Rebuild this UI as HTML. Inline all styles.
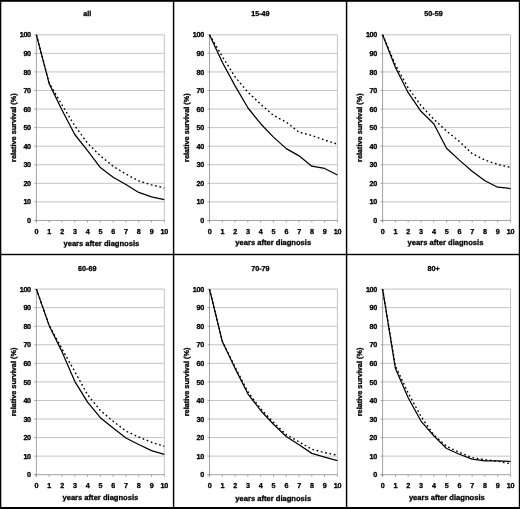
<!DOCTYPE html>
<html><head><meta charset="utf-8"><title>relative survival</title>
<style>html,body{margin:0;padding:0;background:#fff}svg{display:block}text{stroke:#000;stroke-width:.3px;text-rendering:geometricPrecision}.n{letter-spacing:-.3px}</style></head>
<body><svg width="520" height="509" viewBox="0 0 520 509" font-family="Liberation Sans, Arial, Helvetica, sans-serif" font-weight="bold" font-size="7.2" fill="#000"><rect x="0" y="0" width="520" height="509" fill="#fff"/><g><line x1="36.40" y1="201.88" x2="164.30" y2="201.88" stroke="#c4c4c4" stroke-width="1"/><line x1="36.40" y1="183.32" x2="164.30" y2="183.32" stroke="#c4c4c4" stroke-width="1"/><line x1="36.40" y1="164.75" x2="164.30" y2="164.75" stroke="#c4c4c4" stroke-width="1"/><line x1="36.40" y1="146.19" x2="164.30" y2="146.19" stroke="#c4c4c4" stroke-width="1"/><line x1="36.40" y1="127.62" x2="164.30" y2="127.62" stroke="#c4c4c4" stroke-width="1"/><line x1="36.40" y1="109.06" x2="164.30" y2="109.06" stroke="#c4c4c4" stroke-width="1"/><line x1="36.40" y1="90.50" x2="164.30" y2="90.50" stroke="#c4c4c4" stroke-width="1"/><line x1="36.40" y1="71.93" x2="164.30" y2="71.93" stroke="#c4c4c4" stroke-width="1"/><line x1="36.40" y1="53.37" x2="164.30" y2="53.37" stroke="#c4c4c4" stroke-width="1"/><line x1="36.40" y1="34.80" x2="164.30" y2="34.80" stroke="#c4c4c4" stroke-width="1"/><line x1="164.30" y1="34.80" x2="164.30" y2="220.45" stroke="#c4c4c4" stroke-width="1"/><line x1="36.40" y1="34.80" x2="36.40" y2="222.45" stroke="#8a8a8a" stroke-width="0.8"/><line x1="34.40" y1="220.45" x2="164.30" y2="220.45" stroke="#8a8a8a" stroke-width="0.8"/><line x1="34.40" y1="220.45" x2="36.40" y2="220.45" stroke="#8a8a8a" stroke-width="0.8"/><line x1="36.40" y1="220.45" x2="36.40" y2="222.45" stroke="#8a8a8a" stroke-width="0.8"/><text x="30.80" y="223.05" text-anchor="end" class="n">0</text><text x="36.40" y="234.35" text-anchor="middle" class="n">0</text><line x1="34.40" y1="201.88" x2="36.40" y2="201.88" stroke="#8a8a8a" stroke-width="0.8"/><line x1="49.19" y1="220.45" x2="49.19" y2="222.45" stroke="#8a8a8a" stroke-width="0.8"/><text x="30.80" y="204.48" text-anchor="end" class="n">10</text><text x="49.19" y="234.35" text-anchor="middle" class="n">1</text><line x1="34.40" y1="183.32" x2="36.40" y2="183.32" stroke="#8a8a8a" stroke-width="0.8"/><line x1="61.98" y1="220.45" x2="61.98" y2="222.45" stroke="#8a8a8a" stroke-width="0.8"/><text x="30.80" y="185.92" text-anchor="end" class="n">20</text><text x="61.98" y="234.35" text-anchor="middle" class="n">2</text><line x1="34.40" y1="164.75" x2="36.40" y2="164.75" stroke="#8a8a8a" stroke-width="0.8"/><line x1="74.77" y1="220.45" x2="74.77" y2="222.45" stroke="#8a8a8a" stroke-width="0.8"/><text x="30.80" y="167.35" text-anchor="end" class="n">30</text><text x="74.77" y="234.35" text-anchor="middle" class="n">3</text><line x1="34.40" y1="146.19" x2="36.40" y2="146.19" stroke="#8a8a8a" stroke-width="0.8"/><line x1="87.56" y1="220.45" x2="87.56" y2="222.45" stroke="#8a8a8a" stroke-width="0.8"/><text x="30.80" y="148.79" text-anchor="end" class="n">40</text><text x="87.56" y="234.35" text-anchor="middle" class="n">4</text><line x1="34.40" y1="127.62" x2="36.40" y2="127.62" stroke="#8a8a8a" stroke-width="0.8"/><line x1="100.35" y1="220.45" x2="100.35" y2="222.45" stroke="#8a8a8a" stroke-width="0.8"/><text x="30.80" y="130.22" text-anchor="end" class="n">50</text><text x="100.35" y="234.35" text-anchor="middle" class="n">5</text><line x1="34.40" y1="109.06" x2="36.40" y2="109.06" stroke="#8a8a8a" stroke-width="0.8"/><line x1="113.14" y1="220.45" x2="113.14" y2="222.45" stroke="#8a8a8a" stroke-width="0.8"/><text x="30.80" y="111.66" text-anchor="end" class="n">60</text><text x="113.14" y="234.35" text-anchor="middle" class="n">6</text><line x1="34.40" y1="90.50" x2="36.40" y2="90.50" stroke="#8a8a8a" stroke-width="0.8"/><line x1="125.93" y1="220.45" x2="125.93" y2="222.45" stroke="#8a8a8a" stroke-width="0.8"/><text x="30.80" y="93.09" text-anchor="end" class="n">70</text><text x="125.93" y="234.35" text-anchor="middle" class="n">7</text><line x1="34.40" y1="71.93" x2="36.40" y2="71.93" stroke="#8a8a8a" stroke-width="0.8"/><line x1="138.72" y1="220.45" x2="138.72" y2="222.45" stroke="#8a8a8a" stroke-width="0.8"/><text x="30.80" y="74.53" text-anchor="end" class="n">80</text><text x="138.72" y="234.35" text-anchor="middle" class="n">8</text><line x1="34.40" y1="53.37" x2="36.40" y2="53.37" stroke="#8a8a8a" stroke-width="0.8"/><line x1="151.51" y1="220.45" x2="151.51" y2="222.45" stroke="#8a8a8a" stroke-width="0.8"/><text x="30.80" y="55.97" text-anchor="end" class="n">90</text><text x="151.51" y="234.35" text-anchor="middle" class="n">9</text><line x1="34.40" y1="34.80" x2="36.40" y2="34.80" stroke="#8a8a8a" stroke-width="0.8"/><line x1="164.30" y1="220.45" x2="164.30" y2="222.45" stroke="#8a8a8a" stroke-width="0.8"/><text x="30.80" y="37.40" text-anchor="end" class="n">100</text><text x="164.30" y="234.35" text-anchor="middle" class="n">10</text><polyline points="36.40,34.80 49.19,83.07 61.98,104.98 74.77,125.77 87.56,143.22 100.35,155.84 113.14,166.24 125.93,174.04 138.72,180.91 151.51,184.81 164.30,187.96" fill="none" stroke="#000" stroke-width="1.4" stroke-dasharray="1.7 2.7"/><polyline points="36.40,34.80 49.19,83.63 61.98,109.99 74.77,134.49 87.56,150.65 100.35,167.54 113.14,177.19 125.93,184.43 138.72,192.42 151.51,196.87 164.30,199.66" fill="none" stroke="#000" stroke-width="1.25" stroke-linejoin="round"/><text x="101.37" y="245.50" text-anchor="middle" font-size="7.58">years after diagnosis</text><text transform="translate(15.70,127.67) rotate(-90)" text-anchor="middle" font-size="7.3">relative survival (%)</text><text x="87.30" y="16.30" text-anchor="middle">all</text></g><g><line x1="209.50" y1="201.88" x2="337.40" y2="201.88" stroke="#c4c4c4" stroke-width="1"/><line x1="209.50" y1="183.32" x2="337.40" y2="183.32" stroke="#c4c4c4" stroke-width="1"/><line x1="209.50" y1="164.75" x2="337.40" y2="164.75" stroke="#c4c4c4" stroke-width="1"/><line x1="209.50" y1="146.19" x2="337.40" y2="146.19" stroke="#c4c4c4" stroke-width="1"/><line x1="209.50" y1="127.62" x2="337.40" y2="127.62" stroke="#c4c4c4" stroke-width="1"/><line x1="209.50" y1="109.06" x2="337.40" y2="109.06" stroke="#c4c4c4" stroke-width="1"/><line x1="209.50" y1="90.50" x2="337.40" y2="90.50" stroke="#c4c4c4" stroke-width="1"/><line x1="209.50" y1="71.93" x2="337.40" y2="71.93" stroke="#c4c4c4" stroke-width="1"/><line x1="209.50" y1="53.37" x2="337.40" y2="53.37" stroke="#c4c4c4" stroke-width="1"/><line x1="209.50" y1="34.80" x2="337.40" y2="34.80" stroke="#c4c4c4" stroke-width="1"/><line x1="337.40" y1="34.80" x2="337.40" y2="220.45" stroke="#c4c4c4" stroke-width="1"/><line x1="209.50" y1="34.80" x2="209.50" y2="222.45" stroke="#8a8a8a" stroke-width="0.8"/><line x1="207.50" y1="220.45" x2="337.40" y2="220.45" stroke="#8a8a8a" stroke-width="0.8"/><line x1="207.50" y1="220.45" x2="209.50" y2="220.45" stroke="#8a8a8a" stroke-width="0.8"/><line x1="209.50" y1="220.45" x2="209.50" y2="222.45" stroke="#8a8a8a" stroke-width="0.8"/><text x="203.90" y="223.05" text-anchor="end" class="n">0</text><text x="209.50" y="234.35" text-anchor="middle" class="n">0</text><line x1="207.50" y1="201.88" x2="209.50" y2="201.88" stroke="#8a8a8a" stroke-width="0.8"/><line x1="222.29" y1="220.45" x2="222.29" y2="222.45" stroke="#8a8a8a" stroke-width="0.8"/><text x="203.90" y="204.48" text-anchor="end" class="n">10</text><text x="222.29" y="234.35" text-anchor="middle" class="n">1</text><line x1="207.50" y1="183.32" x2="209.50" y2="183.32" stroke="#8a8a8a" stroke-width="0.8"/><line x1="235.08" y1="220.45" x2="235.08" y2="222.45" stroke="#8a8a8a" stroke-width="0.8"/><text x="203.90" y="185.92" text-anchor="end" class="n">20</text><text x="235.08" y="234.35" text-anchor="middle" class="n">2</text><line x1="207.50" y1="164.75" x2="209.50" y2="164.75" stroke="#8a8a8a" stroke-width="0.8"/><line x1="247.87" y1="220.45" x2="247.87" y2="222.45" stroke="#8a8a8a" stroke-width="0.8"/><text x="203.90" y="167.35" text-anchor="end" class="n">30</text><text x="247.87" y="234.35" text-anchor="middle" class="n">3</text><line x1="207.50" y1="146.19" x2="209.50" y2="146.19" stroke="#8a8a8a" stroke-width="0.8"/><line x1="260.66" y1="220.45" x2="260.66" y2="222.45" stroke="#8a8a8a" stroke-width="0.8"/><text x="203.90" y="148.79" text-anchor="end" class="n">40</text><text x="260.66" y="234.35" text-anchor="middle" class="n">4</text><line x1="207.50" y1="127.62" x2="209.50" y2="127.62" stroke="#8a8a8a" stroke-width="0.8"/><line x1="273.45" y1="220.45" x2="273.45" y2="222.45" stroke="#8a8a8a" stroke-width="0.8"/><text x="203.90" y="130.22" text-anchor="end" class="n">50</text><text x="273.45" y="234.35" text-anchor="middle" class="n">5</text><line x1="207.50" y1="109.06" x2="209.50" y2="109.06" stroke="#8a8a8a" stroke-width="0.8"/><line x1="286.24" y1="220.45" x2="286.24" y2="222.45" stroke="#8a8a8a" stroke-width="0.8"/><text x="203.90" y="111.66" text-anchor="end" class="n">60</text><text x="286.24" y="234.35" text-anchor="middle" class="n">6</text><line x1="207.50" y1="90.50" x2="209.50" y2="90.50" stroke="#8a8a8a" stroke-width="0.8"/><line x1="299.03" y1="220.45" x2="299.03" y2="222.45" stroke="#8a8a8a" stroke-width="0.8"/><text x="203.90" y="93.09" text-anchor="end" class="n">70</text><text x="299.03" y="234.35" text-anchor="middle" class="n">7</text><line x1="207.50" y1="71.93" x2="209.50" y2="71.93" stroke="#8a8a8a" stroke-width="0.8"/><line x1="311.82" y1="220.45" x2="311.82" y2="222.45" stroke="#8a8a8a" stroke-width="0.8"/><text x="203.90" y="74.53" text-anchor="end" class="n">80</text><text x="311.82" y="234.35" text-anchor="middle" class="n">8</text><line x1="207.50" y1="53.37" x2="209.50" y2="53.37" stroke="#8a8a8a" stroke-width="0.8"/><line x1="324.61" y1="220.45" x2="324.61" y2="222.45" stroke="#8a8a8a" stroke-width="0.8"/><text x="203.90" y="55.97" text-anchor="end" class="n">90</text><text x="324.61" y="234.35" text-anchor="middle" class="n">9</text><line x1="207.50" y1="34.80" x2="209.50" y2="34.80" stroke="#8a8a8a" stroke-width="0.8"/><line x1="337.40" y1="220.45" x2="337.40" y2="222.45" stroke="#8a8a8a" stroke-width="0.8"/><text x="203.90" y="37.40" text-anchor="end" class="n">100</text><text x="337.40" y="234.35" text-anchor="middle" class="n">10</text><polyline points="209.50,34.80 222.29,56.52 235.08,76.94 247.87,92.17 260.66,104.23 273.45,115.37 286.24,122.06 299.03,132.27 311.82,135.42 324.61,140.06 337.40,144.15" fill="none" stroke="#000" stroke-width="1.4" stroke-dasharray="1.7 2.7"/><polyline points="209.50,34.80 222.29,62.28 235.08,85.85 247.87,107.76 260.66,123.73 273.45,137.09 286.24,148.60 299.03,155.84 311.82,166.24 324.61,168.47 337.40,174.97" fill="none" stroke="#000" stroke-width="1.25" stroke-linejoin="round"/><text x="273.27" y="245.15" text-anchor="middle" font-size="7.58">years after diagnosis</text><text transform="translate(188.80,127.67) rotate(-90)" text-anchor="middle" font-size="7.3">relative survival (%)</text><text x="260.40" y="16.30" text-anchor="middle">15-49</text></g><g><line x1="382.60" y1="201.88" x2="510.50" y2="201.88" stroke="#c4c4c4" stroke-width="1"/><line x1="382.60" y1="183.32" x2="510.50" y2="183.32" stroke="#c4c4c4" stroke-width="1"/><line x1="382.60" y1="164.75" x2="510.50" y2="164.75" stroke="#c4c4c4" stroke-width="1"/><line x1="382.60" y1="146.19" x2="510.50" y2="146.19" stroke="#c4c4c4" stroke-width="1"/><line x1="382.60" y1="127.62" x2="510.50" y2="127.62" stroke="#c4c4c4" stroke-width="1"/><line x1="382.60" y1="109.06" x2="510.50" y2="109.06" stroke="#c4c4c4" stroke-width="1"/><line x1="382.60" y1="90.50" x2="510.50" y2="90.50" stroke="#c4c4c4" stroke-width="1"/><line x1="382.60" y1="71.93" x2="510.50" y2="71.93" stroke="#c4c4c4" stroke-width="1"/><line x1="382.60" y1="53.37" x2="510.50" y2="53.37" stroke="#c4c4c4" stroke-width="1"/><line x1="382.60" y1="34.80" x2="510.50" y2="34.80" stroke="#c4c4c4" stroke-width="1"/><line x1="510.50" y1="34.80" x2="510.50" y2="220.45" stroke="#c4c4c4" stroke-width="1"/><line x1="382.60" y1="34.80" x2="382.60" y2="222.45" stroke="#8a8a8a" stroke-width="0.8"/><line x1="380.60" y1="220.45" x2="510.50" y2="220.45" stroke="#8a8a8a" stroke-width="0.8"/><line x1="380.60" y1="220.45" x2="382.60" y2="220.45" stroke="#8a8a8a" stroke-width="0.8"/><line x1="382.60" y1="220.45" x2="382.60" y2="222.45" stroke="#8a8a8a" stroke-width="0.8"/><text x="377.00" y="223.05" text-anchor="end" class="n">0</text><text x="382.60" y="234.35" text-anchor="middle" class="n">0</text><line x1="380.60" y1="201.88" x2="382.60" y2="201.88" stroke="#8a8a8a" stroke-width="0.8"/><line x1="395.39" y1="220.45" x2="395.39" y2="222.45" stroke="#8a8a8a" stroke-width="0.8"/><text x="377.00" y="204.48" text-anchor="end" class="n">10</text><text x="395.39" y="234.35" text-anchor="middle" class="n">1</text><line x1="380.60" y1="183.32" x2="382.60" y2="183.32" stroke="#8a8a8a" stroke-width="0.8"/><line x1="408.18" y1="220.45" x2="408.18" y2="222.45" stroke="#8a8a8a" stroke-width="0.8"/><text x="377.00" y="185.92" text-anchor="end" class="n">20</text><text x="408.18" y="234.35" text-anchor="middle" class="n">2</text><line x1="380.60" y1="164.75" x2="382.60" y2="164.75" stroke="#8a8a8a" stroke-width="0.8"/><line x1="420.97" y1="220.45" x2="420.97" y2="222.45" stroke="#8a8a8a" stroke-width="0.8"/><text x="377.00" y="167.35" text-anchor="end" class="n">30</text><text x="420.97" y="234.35" text-anchor="middle" class="n">3</text><line x1="380.60" y1="146.19" x2="382.60" y2="146.19" stroke="#8a8a8a" stroke-width="0.8"/><line x1="433.76" y1="220.45" x2="433.76" y2="222.45" stroke="#8a8a8a" stroke-width="0.8"/><text x="377.00" y="148.79" text-anchor="end" class="n">40</text><text x="433.76" y="234.35" text-anchor="middle" class="n">4</text><line x1="380.60" y1="127.62" x2="382.60" y2="127.62" stroke="#8a8a8a" stroke-width="0.8"/><line x1="446.55" y1="220.45" x2="446.55" y2="222.45" stroke="#8a8a8a" stroke-width="0.8"/><text x="377.00" y="130.22" text-anchor="end" class="n">50</text><text x="446.55" y="234.35" text-anchor="middle" class="n">5</text><line x1="380.60" y1="109.06" x2="382.60" y2="109.06" stroke="#8a8a8a" stroke-width="0.8"/><line x1="459.34" y1="220.45" x2="459.34" y2="222.45" stroke="#8a8a8a" stroke-width="0.8"/><text x="377.00" y="111.66" text-anchor="end" class="n">60</text><text x="459.34" y="234.35" text-anchor="middle" class="n">6</text><line x1="380.60" y1="90.50" x2="382.60" y2="90.50" stroke="#8a8a8a" stroke-width="0.8"/><line x1="472.13" y1="220.45" x2="472.13" y2="222.45" stroke="#8a8a8a" stroke-width="0.8"/><text x="377.00" y="93.09" text-anchor="end" class="n">70</text><text x="472.13" y="234.35" text-anchor="middle" class="n">7</text><line x1="380.60" y1="71.93" x2="382.60" y2="71.93" stroke="#8a8a8a" stroke-width="0.8"/><line x1="484.92" y1="220.45" x2="484.92" y2="222.45" stroke="#8a8a8a" stroke-width="0.8"/><text x="377.00" y="74.53" text-anchor="end" class="n">80</text><text x="484.92" y="234.35" text-anchor="middle" class="n">8</text><line x1="380.60" y1="53.37" x2="382.60" y2="53.37" stroke="#8a8a8a" stroke-width="0.8"/><line x1="497.71" y1="220.45" x2="497.71" y2="222.45" stroke="#8a8a8a" stroke-width="0.8"/><text x="377.00" y="55.97" text-anchor="end" class="n">90</text><text x="497.71" y="234.35" text-anchor="middle" class="n">9</text><line x1="380.60" y1="34.80" x2="382.60" y2="34.80" stroke="#8a8a8a" stroke-width="0.8"/><line x1="510.50" y1="220.45" x2="510.50" y2="222.45" stroke="#8a8a8a" stroke-width="0.8"/><text x="377.00" y="37.40" text-anchor="end" class="n">100</text><text x="510.50" y="234.35" text-anchor="middle" class="n">10</text><polyline points="382.60,34.80 395.39,64.88 408.18,87.90 420.97,105.53 433.76,119.09 446.55,131.15 459.34,141.36 472.13,153.62 484.92,160.11 497.71,164.38 510.50,167.35" fill="none" stroke="#000" stroke-width="1.4" stroke-dasharray="1.7 2.7"/><polyline points="382.60,34.80 395.39,67.29 408.18,92.72 420.97,111.29 433.76,123.73 446.55,148.23 459.34,160.11 472.13,171.25 484.92,180.72 497.71,187.22 510.50,188.52" fill="none" stroke="#000" stroke-width="1.25" stroke-linejoin="round"/><text x="445.52" y="244.95" text-anchor="middle" font-size="7.58">years after diagnosis</text><text transform="translate(361.90,127.67) rotate(-90)" text-anchor="middle" font-size="7.3">relative survival (%)</text><text x="433.50" y="16.30" text-anchor="middle">50-59</text></g><g><line x1="36.40" y1="456.14" x2="164.30" y2="456.14" stroke="#c4c4c4" stroke-width="1"/><line x1="36.40" y1="437.58" x2="164.30" y2="437.58" stroke="#c4c4c4" stroke-width="1"/><line x1="36.40" y1="419.02" x2="164.30" y2="419.02" stroke="#c4c4c4" stroke-width="1"/><line x1="36.40" y1="400.46" x2="164.30" y2="400.46" stroke="#c4c4c4" stroke-width="1"/><line x1="36.40" y1="381.90" x2="164.30" y2="381.90" stroke="#c4c4c4" stroke-width="1"/><line x1="36.40" y1="363.34" x2="164.30" y2="363.34" stroke="#c4c4c4" stroke-width="1"/><line x1="36.40" y1="344.78" x2="164.30" y2="344.78" stroke="#c4c4c4" stroke-width="1"/><line x1="36.40" y1="326.22" x2="164.30" y2="326.22" stroke="#c4c4c4" stroke-width="1"/><line x1="36.40" y1="307.66" x2="164.30" y2="307.66" stroke="#c4c4c4" stroke-width="1"/><line x1="36.40" y1="289.10" x2="164.30" y2="289.10" stroke="#c4c4c4" stroke-width="1"/><line x1="164.30" y1="289.10" x2="164.30" y2="474.70" stroke="#c4c4c4" stroke-width="1"/><line x1="36.40" y1="289.10" x2="36.40" y2="476.70" stroke="#8a8a8a" stroke-width="0.8"/><line x1="34.40" y1="474.70" x2="164.30" y2="474.70" stroke="#8a8a8a" stroke-width="0.8"/><line x1="34.40" y1="474.70" x2="36.40" y2="474.70" stroke="#8a8a8a" stroke-width="0.8"/><line x1="36.40" y1="474.70" x2="36.40" y2="476.70" stroke="#8a8a8a" stroke-width="0.8"/><text x="30.80" y="477.30" text-anchor="end" class="n">0</text><text x="36.40" y="488.00" text-anchor="middle" class="n">0</text><line x1="34.40" y1="456.14" x2="36.40" y2="456.14" stroke="#8a8a8a" stroke-width="0.8"/><line x1="49.19" y1="474.70" x2="49.19" y2="476.70" stroke="#8a8a8a" stroke-width="0.8"/><text x="30.80" y="458.74" text-anchor="end" class="n">10</text><text x="49.19" y="488.00" text-anchor="middle" class="n">1</text><line x1="34.40" y1="437.58" x2="36.40" y2="437.58" stroke="#8a8a8a" stroke-width="0.8"/><line x1="61.98" y1="474.70" x2="61.98" y2="476.70" stroke="#8a8a8a" stroke-width="0.8"/><text x="30.80" y="440.18" text-anchor="end" class="n">20</text><text x="61.98" y="488.00" text-anchor="middle" class="n">2</text><line x1="34.40" y1="419.02" x2="36.40" y2="419.02" stroke="#8a8a8a" stroke-width="0.8"/><line x1="74.77" y1="474.70" x2="74.77" y2="476.70" stroke="#8a8a8a" stroke-width="0.8"/><text x="30.80" y="421.62" text-anchor="end" class="n">30</text><text x="74.77" y="488.00" text-anchor="middle" class="n">3</text><line x1="34.40" y1="400.46" x2="36.40" y2="400.46" stroke="#8a8a8a" stroke-width="0.8"/><line x1="87.56" y1="474.70" x2="87.56" y2="476.70" stroke="#8a8a8a" stroke-width="0.8"/><text x="30.80" y="403.06" text-anchor="end" class="n">40</text><text x="87.56" y="488.00" text-anchor="middle" class="n">4</text><line x1="34.40" y1="381.90" x2="36.40" y2="381.90" stroke="#8a8a8a" stroke-width="0.8"/><line x1="100.35" y1="474.70" x2="100.35" y2="476.70" stroke="#8a8a8a" stroke-width="0.8"/><text x="30.80" y="384.50" text-anchor="end" class="n">50</text><text x="100.35" y="488.00" text-anchor="middle" class="n">5</text><line x1="34.40" y1="363.34" x2="36.40" y2="363.34" stroke="#8a8a8a" stroke-width="0.8"/><line x1="113.14" y1="474.70" x2="113.14" y2="476.70" stroke="#8a8a8a" stroke-width="0.8"/><text x="30.80" y="365.94" text-anchor="end" class="n">60</text><text x="113.14" y="488.00" text-anchor="middle" class="n">6</text><line x1="34.40" y1="344.78" x2="36.40" y2="344.78" stroke="#8a8a8a" stroke-width="0.8"/><line x1="125.93" y1="474.70" x2="125.93" y2="476.70" stroke="#8a8a8a" stroke-width="0.8"/><text x="30.80" y="347.38" text-anchor="end" class="n">70</text><text x="125.93" y="488.00" text-anchor="middle" class="n">7</text><line x1="34.40" y1="326.22" x2="36.40" y2="326.22" stroke="#8a8a8a" stroke-width="0.8"/><line x1="138.72" y1="474.70" x2="138.72" y2="476.70" stroke="#8a8a8a" stroke-width="0.8"/><text x="30.80" y="328.82" text-anchor="end" class="n">80</text><text x="138.72" y="488.00" text-anchor="middle" class="n">8</text><line x1="34.40" y1="307.66" x2="36.40" y2="307.66" stroke="#8a8a8a" stroke-width="0.8"/><line x1="151.51" y1="474.70" x2="151.51" y2="476.70" stroke="#8a8a8a" stroke-width="0.8"/><text x="30.80" y="310.26" text-anchor="end" class="n">90</text><text x="151.51" y="488.00" text-anchor="middle" class="n">9</text><line x1="34.40" y1="289.10" x2="36.40" y2="289.10" stroke="#8a8a8a" stroke-width="0.8"/><line x1="164.30" y1="474.70" x2="164.30" y2="476.70" stroke="#8a8a8a" stroke-width="0.8"/><text x="30.80" y="291.70" text-anchor="end" class="n">100</text><text x="164.30" y="488.00" text-anchor="middle" class="n">10</text><polyline points="36.40,289.10 49.19,325.29 61.98,348.86 74.77,371.51 87.56,394.71 100.35,410.48 113.14,421.25 125.93,431.08 138.72,437.02 151.51,442.22 164.30,446.30" fill="none" stroke="#000" stroke-width="1.4" stroke-dasharray="1.7 2.7"/><polyline points="36.40,289.10 49.19,325.66 61.98,351.65 74.77,381.34 87.56,402.13 100.35,417.72 113.14,428.11 125.93,437.95 138.72,444.45 151.51,450.57 164.30,454.28" fill="none" stroke="#000" stroke-width="1.25" stroke-linejoin="round"/><text x="100.37" y="500.15" text-anchor="middle" font-size="7.58">years after diagnosis</text><text transform="translate(15.70,381.95) rotate(-90)" text-anchor="middle" font-size="7.3">relative survival (%)</text><text x="87.30" y="270.60" text-anchor="middle">60-69</text></g><g><line x1="209.50" y1="456.14" x2="337.40" y2="456.14" stroke="#c4c4c4" stroke-width="1"/><line x1="209.50" y1="437.58" x2="337.40" y2="437.58" stroke="#c4c4c4" stroke-width="1"/><line x1="209.50" y1="419.02" x2="337.40" y2="419.02" stroke="#c4c4c4" stroke-width="1"/><line x1="209.50" y1="400.46" x2="337.40" y2="400.46" stroke="#c4c4c4" stroke-width="1"/><line x1="209.50" y1="381.90" x2="337.40" y2="381.90" stroke="#c4c4c4" stroke-width="1"/><line x1="209.50" y1="363.34" x2="337.40" y2="363.34" stroke="#c4c4c4" stroke-width="1"/><line x1="209.50" y1="344.78" x2="337.40" y2="344.78" stroke="#c4c4c4" stroke-width="1"/><line x1="209.50" y1="326.22" x2="337.40" y2="326.22" stroke="#c4c4c4" stroke-width="1"/><line x1="209.50" y1="307.66" x2="337.40" y2="307.66" stroke="#c4c4c4" stroke-width="1"/><line x1="209.50" y1="289.10" x2="337.40" y2="289.10" stroke="#c4c4c4" stroke-width="1"/><line x1="337.40" y1="289.10" x2="337.40" y2="474.70" stroke="#c4c4c4" stroke-width="1"/><line x1="209.50" y1="289.10" x2="209.50" y2="476.70" stroke="#8a8a8a" stroke-width="0.8"/><line x1="207.50" y1="474.70" x2="337.40" y2="474.70" stroke="#8a8a8a" stroke-width="0.8"/><line x1="207.50" y1="474.70" x2="209.50" y2="474.70" stroke="#8a8a8a" stroke-width="0.8"/><line x1="209.50" y1="474.70" x2="209.50" y2="476.70" stroke="#8a8a8a" stroke-width="0.8"/><text x="203.90" y="477.30" text-anchor="end" class="n">0</text><text x="209.50" y="488.00" text-anchor="middle" class="n">0</text><line x1="207.50" y1="456.14" x2="209.50" y2="456.14" stroke="#8a8a8a" stroke-width="0.8"/><line x1="222.29" y1="474.70" x2="222.29" y2="476.70" stroke="#8a8a8a" stroke-width="0.8"/><text x="203.90" y="458.74" text-anchor="end" class="n">10</text><text x="222.29" y="488.00" text-anchor="middle" class="n">1</text><line x1="207.50" y1="437.58" x2="209.50" y2="437.58" stroke="#8a8a8a" stroke-width="0.8"/><line x1="235.08" y1="474.70" x2="235.08" y2="476.70" stroke="#8a8a8a" stroke-width="0.8"/><text x="203.90" y="440.18" text-anchor="end" class="n">20</text><text x="235.08" y="488.00" text-anchor="middle" class="n">2</text><line x1="207.50" y1="419.02" x2="209.50" y2="419.02" stroke="#8a8a8a" stroke-width="0.8"/><line x1="247.87" y1="474.70" x2="247.87" y2="476.70" stroke="#8a8a8a" stroke-width="0.8"/><text x="203.90" y="421.62" text-anchor="end" class="n">30</text><text x="247.87" y="488.00" text-anchor="middle" class="n">3</text><line x1="207.50" y1="400.46" x2="209.50" y2="400.46" stroke="#8a8a8a" stroke-width="0.8"/><line x1="260.66" y1="474.70" x2="260.66" y2="476.70" stroke="#8a8a8a" stroke-width="0.8"/><text x="203.90" y="403.06" text-anchor="end" class="n">40</text><text x="260.66" y="488.00" text-anchor="middle" class="n">4</text><line x1="207.50" y1="381.90" x2="209.50" y2="381.90" stroke="#8a8a8a" stroke-width="0.8"/><line x1="273.45" y1="474.70" x2="273.45" y2="476.70" stroke="#8a8a8a" stroke-width="0.8"/><text x="203.90" y="384.50" text-anchor="end" class="n">50</text><text x="273.45" y="488.00" text-anchor="middle" class="n">5</text><line x1="207.50" y1="363.34" x2="209.50" y2="363.34" stroke="#8a8a8a" stroke-width="0.8"/><line x1="286.24" y1="474.70" x2="286.24" y2="476.70" stroke="#8a8a8a" stroke-width="0.8"/><text x="203.90" y="365.94" text-anchor="end" class="n">60</text><text x="286.24" y="488.00" text-anchor="middle" class="n">6</text><line x1="207.50" y1="344.78" x2="209.50" y2="344.78" stroke="#8a8a8a" stroke-width="0.8"/><line x1="299.03" y1="474.70" x2="299.03" y2="476.70" stroke="#8a8a8a" stroke-width="0.8"/><text x="203.90" y="347.38" text-anchor="end" class="n">70</text><text x="299.03" y="488.00" text-anchor="middle" class="n">7</text><line x1="207.50" y1="326.22" x2="209.50" y2="326.22" stroke="#8a8a8a" stroke-width="0.8"/><line x1="311.82" y1="474.70" x2="311.82" y2="476.70" stroke="#8a8a8a" stroke-width="0.8"/><text x="203.90" y="328.82" text-anchor="end" class="n">80</text><text x="311.82" y="488.00" text-anchor="middle" class="n">8</text><line x1="207.50" y1="307.66" x2="209.50" y2="307.66" stroke="#8a8a8a" stroke-width="0.8"/><line x1="324.61" y1="474.70" x2="324.61" y2="476.70" stroke="#8a8a8a" stroke-width="0.8"/><text x="203.90" y="310.26" text-anchor="end" class="n">90</text><text x="324.61" y="488.00" text-anchor="middle" class="n">9</text><line x1="207.50" y1="289.10" x2="209.50" y2="289.10" stroke="#8a8a8a" stroke-width="0.8"/><line x1="337.40" y1="474.70" x2="337.40" y2="476.70" stroke="#8a8a8a" stroke-width="0.8"/><text x="203.90" y="291.70" text-anchor="end" class="n">100</text><text x="337.40" y="488.00" text-anchor="middle" class="n">10</text><polyline points="209.50,289.10 222.29,341.07 235.08,367.05 247.87,391.74 260.66,408.81 273.45,422.18 286.24,434.61 299.03,441.85 311.82,449.27 324.61,452.61 337.40,455.21" fill="none" stroke="#000" stroke-width="1.4" stroke-dasharray="1.7 2.7"/><polyline points="209.50,289.10 222.29,341.44 235.08,368.35 247.87,393.78 260.66,410.48 273.45,424.22 286.24,436.47 299.03,444.82 311.82,453.36 324.61,457.07 337.40,460.59" fill="none" stroke="#000" stroke-width="1.25" stroke-linejoin="round"/><text x="273.27" y="500.65" text-anchor="middle" font-size="7.58">years after diagnosis</text><text transform="translate(188.80,381.95) rotate(-90)" text-anchor="middle" font-size="7.3">relative survival (%)</text><text x="260.40" y="270.60" text-anchor="middle">70-79</text></g><g><line x1="382.60" y1="456.14" x2="510.50" y2="456.14" stroke="#c4c4c4" stroke-width="1"/><line x1="382.60" y1="437.58" x2="510.50" y2="437.58" stroke="#c4c4c4" stroke-width="1"/><line x1="382.60" y1="419.02" x2="510.50" y2="419.02" stroke="#c4c4c4" stroke-width="1"/><line x1="382.60" y1="400.46" x2="510.50" y2="400.46" stroke="#c4c4c4" stroke-width="1"/><line x1="382.60" y1="381.90" x2="510.50" y2="381.90" stroke="#c4c4c4" stroke-width="1"/><line x1="382.60" y1="363.34" x2="510.50" y2="363.34" stroke="#c4c4c4" stroke-width="1"/><line x1="382.60" y1="344.78" x2="510.50" y2="344.78" stroke="#c4c4c4" stroke-width="1"/><line x1="382.60" y1="326.22" x2="510.50" y2="326.22" stroke="#c4c4c4" stroke-width="1"/><line x1="382.60" y1="307.66" x2="510.50" y2="307.66" stroke="#c4c4c4" stroke-width="1"/><line x1="382.60" y1="289.10" x2="510.50" y2="289.10" stroke="#c4c4c4" stroke-width="1"/><line x1="510.50" y1="289.10" x2="510.50" y2="474.70" stroke="#c4c4c4" stroke-width="1"/><line x1="382.60" y1="289.10" x2="382.60" y2="476.70" stroke="#8a8a8a" stroke-width="0.8"/><line x1="380.60" y1="474.70" x2="510.50" y2="474.70" stroke="#8a8a8a" stroke-width="0.8"/><line x1="380.60" y1="474.70" x2="382.60" y2="474.70" stroke="#8a8a8a" stroke-width="0.8"/><line x1="382.60" y1="474.70" x2="382.60" y2="476.70" stroke="#8a8a8a" stroke-width="0.8"/><text x="377.00" y="477.30" text-anchor="end" class="n">0</text><text x="382.60" y="488.00" text-anchor="middle" class="n">0</text><line x1="380.60" y1="456.14" x2="382.60" y2="456.14" stroke="#8a8a8a" stroke-width="0.8"/><line x1="395.39" y1="474.70" x2="395.39" y2="476.70" stroke="#8a8a8a" stroke-width="0.8"/><text x="377.00" y="458.74" text-anchor="end" class="n">10</text><text x="395.39" y="488.00" text-anchor="middle" class="n">1</text><line x1="380.60" y1="437.58" x2="382.60" y2="437.58" stroke="#8a8a8a" stroke-width="0.8"/><line x1="408.18" y1="474.70" x2="408.18" y2="476.70" stroke="#8a8a8a" stroke-width="0.8"/><text x="377.00" y="440.18" text-anchor="end" class="n">20</text><text x="408.18" y="488.00" text-anchor="middle" class="n">2</text><line x1="380.60" y1="419.02" x2="382.60" y2="419.02" stroke="#8a8a8a" stroke-width="0.8"/><line x1="420.97" y1="474.70" x2="420.97" y2="476.70" stroke="#8a8a8a" stroke-width="0.8"/><text x="377.00" y="421.62" text-anchor="end" class="n">30</text><text x="420.97" y="488.00" text-anchor="middle" class="n">3</text><line x1="380.60" y1="400.46" x2="382.60" y2="400.46" stroke="#8a8a8a" stroke-width="0.8"/><line x1="433.76" y1="474.70" x2="433.76" y2="476.70" stroke="#8a8a8a" stroke-width="0.8"/><text x="377.00" y="403.06" text-anchor="end" class="n">40</text><text x="433.76" y="488.00" text-anchor="middle" class="n">4</text><line x1="380.60" y1="381.90" x2="382.60" y2="381.90" stroke="#8a8a8a" stroke-width="0.8"/><line x1="446.55" y1="474.70" x2="446.55" y2="476.70" stroke="#8a8a8a" stroke-width="0.8"/><text x="377.00" y="384.50" text-anchor="end" class="n">50</text><text x="446.55" y="488.00" text-anchor="middle" class="n">5</text><line x1="380.60" y1="363.34" x2="382.60" y2="363.34" stroke="#8a8a8a" stroke-width="0.8"/><line x1="459.34" y1="474.70" x2="459.34" y2="476.70" stroke="#8a8a8a" stroke-width="0.8"/><text x="377.00" y="365.94" text-anchor="end" class="n">60</text><text x="459.34" y="488.00" text-anchor="middle" class="n">6</text><line x1="380.60" y1="344.78" x2="382.60" y2="344.78" stroke="#8a8a8a" stroke-width="0.8"/><line x1="472.13" y1="474.70" x2="472.13" y2="476.70" stroke="#8a8a8a" stroke-width="0.8"/><text x="377.00" y="347.38" text-anchor="end" class="n">70</text><text x="472.13" y="488.00" text-anchor="middle" class="n">7</text><line x1="380.60" y1="326.22" x2="382.60" y2="326.22" stroke="#8a8a8a" stroke-width="0.8"/><line x1="484.92" y1="474.70" x2="484.92" y2="476.70" stroke="#8a8a8a" stroke-width="0.8"/><text x="377.00" y="328.82" text-anchor="end" class="n">80</text><text x="484.92" y="488.00" text-anchor="middle" class="n">8</text><line x1="380.60" y1="307.66" x2="382.60" y2="307.66" stroke="#8a8a8a" stroke-width="0.8"/><line x1="497.71" y1="474.70" x2="497.71" y2="476.70" stroke="#8a8a8a" stroke-width="0.8"/><text x="377.00" y="310.26" text-anchor="end" class="n">90</text><text x="497.71" y="488.00" text-anchor="middle" class="n">9</text><line x1="380.60" y1="289.10" x2="382.60" y2="289.10" stroke="#8a8a8a" stroke-width="0.8"/><line x1="510.50" y1="474.70" x2="510.50" y2="476.70" stroke="#8a8a8a" stroke-width="0.8"/><text x="377.00" y="291.70" text-anchor="end" class="n">100</text><text x="510.50" y="488.00" text-anchor="middle" class="n">10</text><polyline points="382.60,289.10 395.39,365.94 408.18,393.04 420.97,416.42 433.76,434.98 446.55,446.30 459.34,452.43 472.13,457.62 484.92,459.67 497.71,461.15 510.50,463.75" fill="none" stroke="#000" stroke-width="1.4" stroke-dasharray="1.7 2.7"/><polyline points="382.60,289.10 395.39,368.35 408.18,397.68 420.97,421.06 433.76,435.72 446.55,448.53 459.34,454.28 472.13,459.11 484.92,460.78 497.71,460.97 510.50,461.52" fill="none" stroke="#000" stroke-width="1.25" stroke-linejoin="round"/><text x="446.82" y="500.30" text-anchor="middle" font-size="7.58">years after diagnosis</text><text transform="translate(361.90,381.95) rotate(-90)" text-anchor="middle" font-size="7.3">relative survival (%)</text><text x="433.50" y="270.60" text-anchor="middle">80+</text></g><rect x="0" y="0" width="520" height="1.8" fill="#000"/><rect x="0" y="507" width="520" height="2" fill="#000"/><rect x="0" y="0" width="1.3" height="509" fill="#000"/><rect x="518.8" y="0" width="1.2" height="509" fill="#000"/><rect x="172.85" y="0" width="1.45" height="509" fill="#000"/><rect x="345.85" y="0" width="1.45" height="509" fill="#000"/><rect x="0" y="253.8" width="520" height="1.4" fill="#000"/></svg></body></html>
